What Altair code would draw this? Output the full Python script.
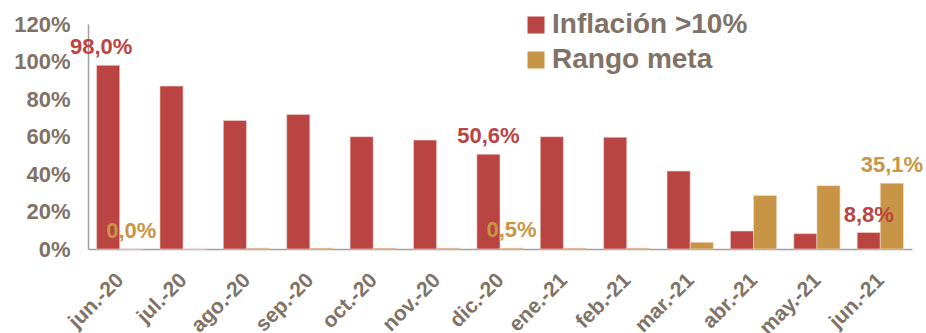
import altair as alt
import pandas as pd

months = ["jun.-20", "jul.-20", "ago.-20", "sep.-20", "oct.-20", "nov.-20", "dic.-20",
          "ene.-21", "feb.-21", "mar.-21", "abr.-21", "may.-21", "jun.-21"]
inflacion = [98.0, 86.9, 68.6, 71.8, 59.9, 58.1, 50.6, 59.9, 59.6, 41.6, 9.6, 8.2, 8.8]
rango = [0.0, 0.0, 0.5, 0.5, 0.5, 0.5, 0.5, 0.5, 0.5, 3.6, 28.6, 33.8, 35.1]
series = ["Inflación >10%", "Rango meta"]
labeled_months = ["jun.-20", "dic.-20", "jun.-21"]
colors = ["#B94441", "#C89546"]
text_color = "#807266"
FONT = "Liberation Sans"

rows = []
for m, a, b in zip(months, inflacion, rango):
    for s, v in zip(series, [a, b]):
        rows.append({"mes": m, "serie": s, "valor": v,
                     "etiqueta": (f"{v:.1f}".replace(".", ",") + "%"),
                     "mostrar": m in labeled_months})
df = pd.DataFrame(rows)

x = alt.X("mes:N", sort=months, title=None,
          scale=alt.Scale(paddingInner=0.27, paddingOuter=0.135),
          axis=alt.Axis(labelAngle=-45, labelAlign="right", labelBaseline="top",
                        labelFont=FONT, labelFontSize=21, labelFontWeight="bold",
                        labelColor=text_color, ticks=False, tickSize=0, labelPadding=20,
                        labelOffset=-7,
                        domainColor="#A0A0A0", domainWidth=1.5, grid=False, labelLimit=0))
xo = alt.XOffset("serie:N", sort=series, scale=alt.Scale(domain=series, paddingInner=0, paddingOuter=0))
y = alt.Y("valor:Q", title=None,
          scale=alt.Scale(domain=[0, 120], nice=False),
          axis=alt.Axis(values=[0, 20, 40, 60, 80, 100, 120], labelExpr="datum.value + '%'",
                        labelFont=FONT, labelFontSize=22, labelFontWeight="bold",
                        labelColor=text_color, ticks=False, tickSize=0, labelPadding=18,
                        domainColor="#A0A0A0", domainWidth=1.5, grid=False))
color = alt.Color("serie:N", sort=series,
                  scale=alt.Scale(domain=series, range=colors),
                  legend=alt.Legend(title=None, orient="none", legendX=434, legendY=-13,
                                    symbolType="square", symbolSize=289, symbolStrokeWidth=0,
                                    labelFont=FONT, labelFontSize=28, labelFontWeight="bold",
                                    labelColor=text_color, labelOffset=2, rowPadding=7,
                                    labelLimit=0, padding=0))

bars = alt.Chart(df).mark_bar(stroke="#F5DCD5", strokeWidth=0.6).encode(
    x=x, xOffset=xo, y=y, color=color)

base_text = alt.Chart(df).transform_filter("datum.mostrar")
labels = base_text.transform_filter("datum.mes != 'jun.-20' || datum.serie != 'Inflación >10%'").mark_text(
    font=FONT, fontSize=22, fontWeight="bold", baseline="middle", dy=-18
).encode(x=x, xOffset=xo, y=y,
         text="etiqueta:N",
         color=alt.Color("serie:N", scale=alt.Scale(domain=series, range=colors), legend=None))
label_first = base_text.transform_filter("datum.mes == 'jun.-20' && datum.serie == 'Inflación >10%'").mark_text(
    font=FONT, fontSize=22, fontWeight="bold", baseline="middle", dy=-18, dx=-7
).encode(x=x, xOffset=xo, y=y,
         text="etiqueta:N",
         color=alt.Color("serie:N", scale=alt.Scale(domain=series, range=colors), legend=None))

chart = alt.layer(bars, labels, label_first).properties(
    width=824, height=225,
    autosize=alt.AutoSizeParams(type="none"),
    padding={"left": 88, "top": 24, "right": 14, "bottom": 84},
    background="white"
).configure_view(stroke=None)

chart.save("out.html", embed_options={"renderer": "svg", "actions": False})
